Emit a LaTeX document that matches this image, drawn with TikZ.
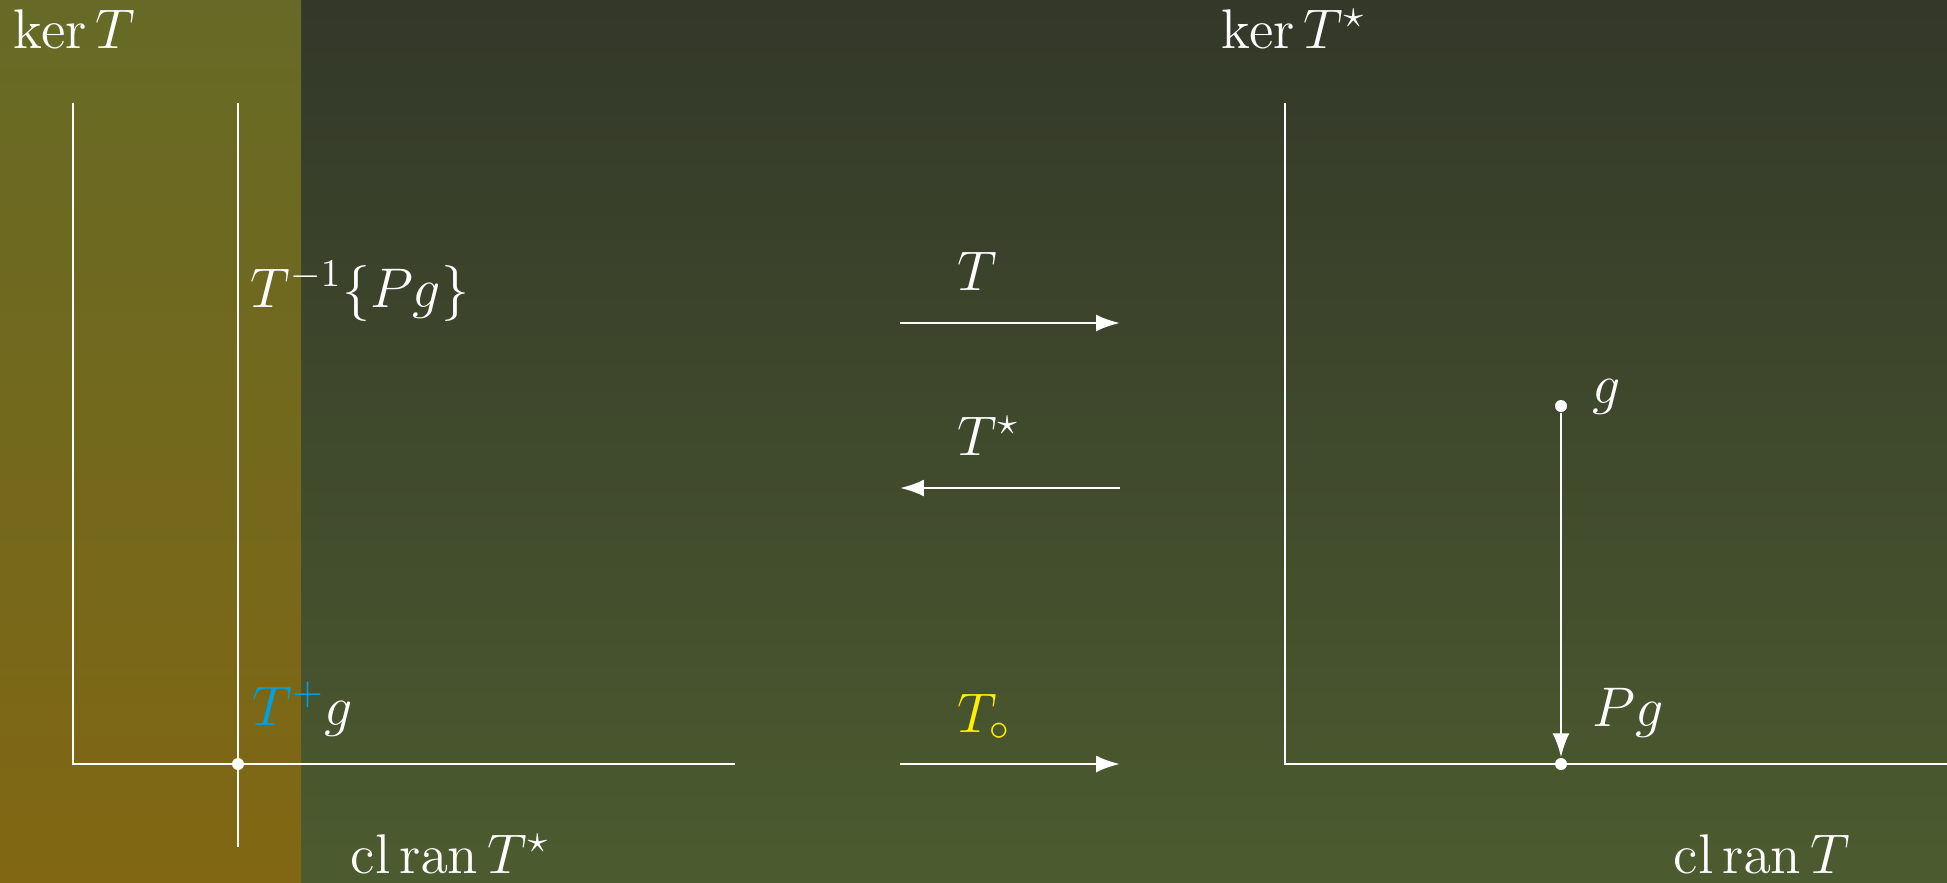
\RequirePackage{fix-cm}
\documentclass[tikz,border=0pt]{standalone}
\usepackage{amsmath,amssymb}
\usetikzlibrary{arrows.meta}
\definecolor{bgtop}{RGB}{51,56,41}
\definecolor{bgbot}{RGB}{76,91,47}
\definecolor{striptop}{RGB}{102,106,38}
\definecolor{stripbot}{RGB}{129,103,19}
\definecolor{pinvblue}{RGB}{0,160,227}
\definecolor{tcirc}{RGB}{255,240,0}
\begin{document}
\begin{tikzpicture}[x=1cm, y=1cm,
    axis/.style={line width=0.7pt, white},
    maparrow/.style={line width=0.7pt, white, -{Latex[length=6.8pt,width=4.8pt]}},
    dot/.style={circle, fill=white, inner sep=0pt, minimum size=0.12cm},
    lbl/.style={anchor=base west, inner sep=0pt, text=white, font=\fontsize{15.9}{19}\selectfont}]
  \useasboundingbox (0,0) rectangle (19.47,8.82);
  % ---------------- background ----------------
  \shade[top color=bgtop, bottom color=bgbot] (0,0) rectangle (19.47,8.82);
  \shade[top color=striptop, bottom color=stripbot] (0,0) rectangle (3.01,8.82);
  % ---------------- left panel: domain ----------------
  \coordinate (ltop) at (0.73,7.79);
  \coordinate (lorig) at (0.73,1.18);
  \coordinate (lend) at (7.35,1.18);
  \coordinate (ftop) at (2.38,7.79);
  \coordinate (fbot) at (2.38,0.35);
  \draw[axis] (ltop) -- (lorig) -- (lend);
  \draw[axis] (ftop) -- (fbot);
  \node[dot] (tpg) at (2.38,1.18) {};
  \node[lbl] (kerT) at (0.13,8.34) {$\ker T$};
  \node[lbl] (fiber) at (2.50,5.75) {$T^{-1}\{Pg\}$};
  \node[lbl] (pinv) at (2.52,1.57) {$\textcolor{pinvblue}{T^{+}}g$};
  \node[lbl] (ranTs) at (3.50,0.09) {$\operatorname{cl}\operatorname{ran}T^\star$};
  % ---------------- maps ----------------
  \coordinate (ma) at (9.00,5.59); \coordinate (mb) at (11.20,5.59);
  \coordinate (sa) at (9.00,3.94); \coordinate (sb) at (11.20,3.94);
  \coordinate (ca) at (9.00,1.18); \coordinate (cb) at (11.20,1.18);
  \draw[maparrow] (ma) -- (mb);
  \draw[maparrow] (sb) -- (sa);
  \draw[maparrow] (ca) -- (cb);
  \node[lbl] (mapT) at (9.57,5.92) {$T$};
  \node[lbl] (mapTs) at (9.57,4.27) {$T^\star$};
  \node[lbl, text=tcirc] (mapTc) at (9.57,1.50) {$T_\circ$};
  % ---------------- right panel: codomain ----------------
  \coordinate (rtop) at (12.85,7.79);
  \coordinate (rorig) at (12.85,1.18);
  \coordinate (rend) at (19.47,1.18);
  \draw[axis] (rtop) -- (rorig) -- (rend);
  \node[dot] (g) at (15.61,4.76) {};
  \node[dot] (Pg) at (15.61,1.18) {};
  \draw[maparrow] (g) -- (Pg);
  \node[lbl] (kerTs) at (12.21,8.34) {$\ker T^\star$};
  \node[lbl] (glbl) at (15.92,4.79) {$g$};
  \node[lbl] (Pglbl) at (15.92,1.56) {$Pg$};
  \node[lbl] (ranT) at (16.73,0.09) {$\operatorname{cl}\operatorname{ran}T$};
\end{tikzpicture}
\end{document}
